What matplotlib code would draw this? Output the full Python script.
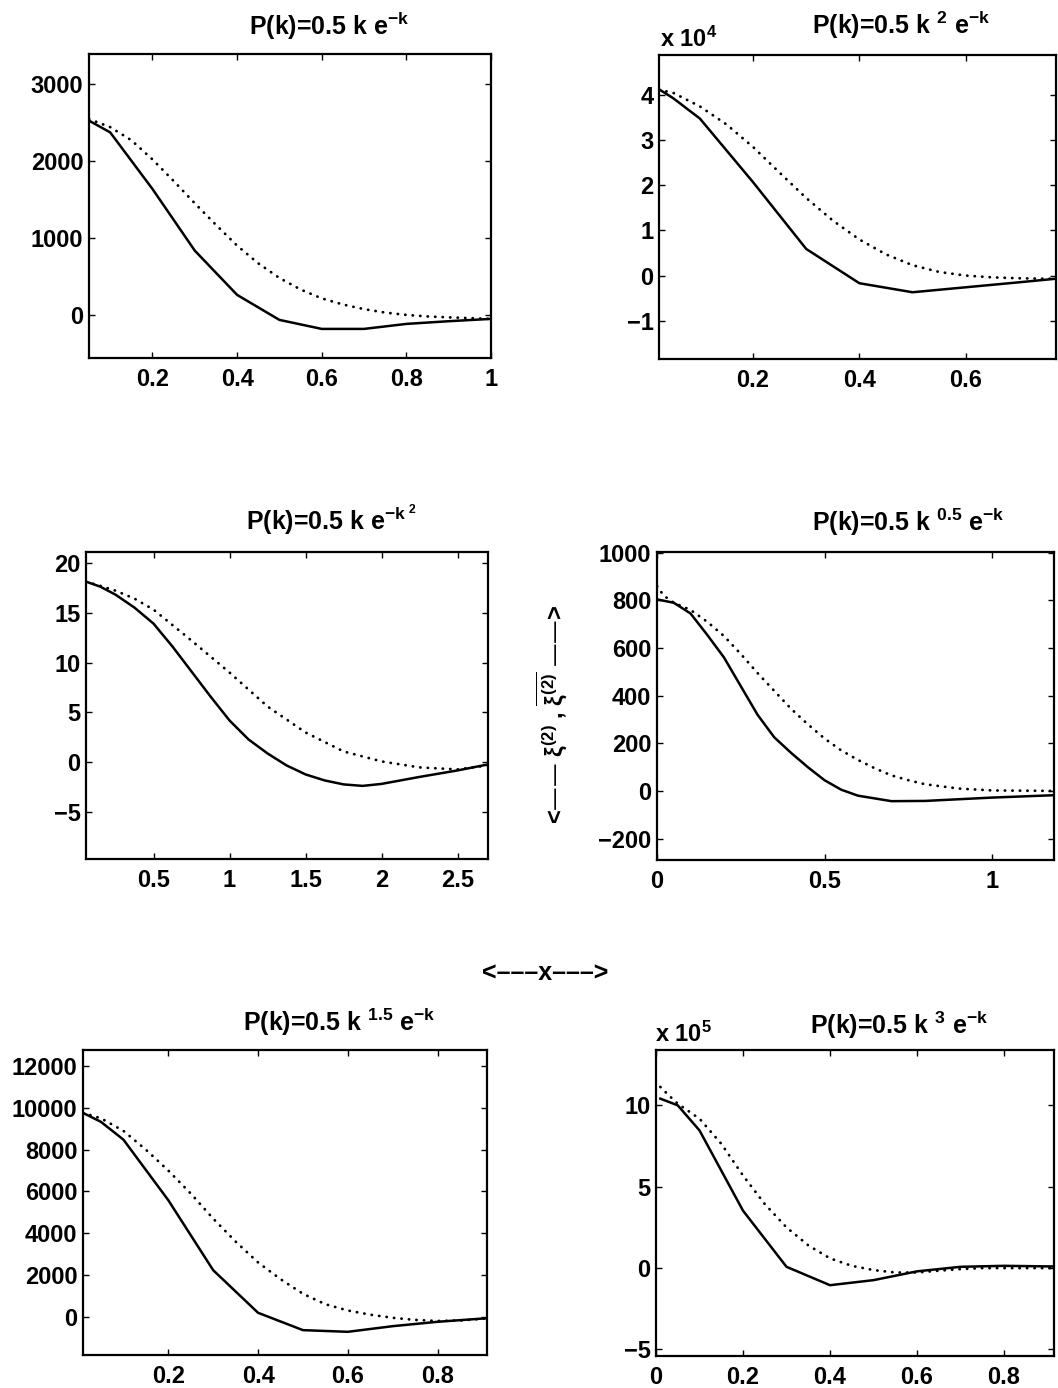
import matplotlib.pyplot as plt
from matplotlib.ticker import FuncFormatter

plt.rcParams['font.family'] = ['Liberation Sans', 'DejaVu Sans']
plt.rcParams['font.weight'] = 'bold'
plt.rcParams['mathtext.default'] = 'regular'

# Panel 1: P(k)=0.5 k e^-k
p1_x_solid = [0.05, 0.1, 0.2, 0.3, 0.4, 0.5, 0.6, 0.7, 0.8, 0.9, 1.0]
p1_y_solid = [2524, 2372, 1636, 835, 260, -65, -182, -182, -117, -82, -52]
p1_x_dot = [0.05, 0.1, 0.15, 0.2, 0.25, 0.3, 0.35, 0.4, 0.45, 0.5,
            0.55, 0.6, 0.65, 0.7, 0.75, 0.8, 0.85, 0.9, 0.95, 1.0]
p1_y_dot = [2545, 2440, 2270, 2020, 1740, 1450, 1170, 900, 670, 480,
            330, 215, 135, 75, 30, 0, -20, -32, -42, -52]

# Panel 2: P(k)=0.5 k^2 e^-k   (values x 10^4)
p2_x_solid = [0.023, 0.05, 0.1, 0.2, 0.3, 0.4, 0.5, 0.6, 0.7, 0.77]
p2_y_solid = [4.13, 3.93, 3.48, 2.07, 0.59, -0.17, -0.37, -0.26, -0.15, -0.07]
p2_x_dot = [0.023, 0.05, 0.1, 0.15, 0.2, 0.25, 0.3, 0.35, 0.4, 0.45,
            0.5, 0.55, 0.6, 0.65, 0.7, 0.75, 0.77]
p2_y_dot = [4.12, 4.05, 3.75, 3.35, 2.85, 2.28, 1.72, 1.22, 0.80, 0.47,
            0.23, 0.08, 0.0, -0.04, -0.06, -0.07, -0.07]

# Panel 3: P(k)=0.5 k e^-k^2
p3_x_solid = [0.056, 0.15, 0.25, 0.375, 0.5, 0.625, 0.75, 0.875, 1.0, 1.125, 1.25,
              1.375, 1.5, 1.625, 1.75, 1.875, 2.0, 2.25, 2.5, 2.7]
p3_y_solid = [18.1, 17.6, 16.8, 15.5, 13.9, 11.6, 9.1, 6.6, 4.2, 2.3, 0.9,
              -0.3, -1.2, -1.8, -2.2, -2.35, -2.15, -1.45, -0.8, -0.2]
p3_x_dot = [0.056, 0.125, 0.25, 0.375, 0.5, 0.75, 1.0, 1.25, 1.5, 1.75,
            2.0, 2.25, 2.5, 2.7]
p3_y_dot = [18.1, 17.8, 17.2, 16.4, 15.3, 12.2, 9.0, 5.6, 3.0, 1.1,
            0.1, -0.5, -0.7, -0.3]

# Panel 4: P(k)=0.5 k^0.5 e^-k
p4_x_solid = [0, 0.05, 0.1, 0.15, 0.2, 0.25, 0.3, 0.35, 0.4, 0.45,
              0.5, 0.55, 0.6, 0.7, 0.8, 0.9, 1.0, 1.185]
p4_y_solid = [804, 790, 745, 655, 560, 440, 320, 225, 160, 100,
              45, 5, -20, -43, -42, -35, -28, -18]
p4_x_dot = [0, 0.02, 0.05, 0.1, 0.15, 0.2, 0.25, 0.3, 0.35, 0.4, 0.45,
            0.5, 0.55, 0.6, 0.65, 0.7, 0.75, 0.8, 0.9, 1.0, 1.185]
p4_y_dot = [860, 820, 790, 760, 710, 650, 575, 495, 420, 345, 280,
            220, 170, 130, 95, 65, 45, 28, 10, 2, 0]

# Panel 5: P(k)=0.5 k^1.5 e^-k
p5_x_solid = [0.01, 0.05, 0.1, 0.2, 0.3, 0.4, 0.5, 0.6, 0.7, 0.8, 0.91]
p5_y_solid = [9760, 9330, 8480, 5580, 2230, 190, -640, -720, -450, -240, -70]
p5_x_dot = [0.01, 0.05, 0.1, 0.15, 0.2, 0.25, 0.3, 0.35, 0.4, 0.45,
            0.5, 0.55, 0.6, 0.65, 0.7, 0.75, 0.8, 0.85, 0.91]
p5_y_dot = [9760, 9500, 8900, 8000, 7000, 5900, 4700, 3600, 2600, 1800,
            1100, 600, 300, 100, -50, -150, -200, -180, -80]

# Panel 6: P(k)=0.5 k^3 e^-k   (values x 10^5)
p6_x_solid = [0.01, 0.05, 0.1, 0.2, 0.3, 0.4, 0.5, 0.6, 0.7, 0.8, 0.915]
p6_y_solid = [10.41, 10.0, 8.46, 3.53, 0.08, -1.05, -0.74, -0.2, 0.08, 0.14, 0.1]
p6_x_dot = [0.01, 0.03, 0.05, 0.1, 0.15, 0.2, 0.25, 0.3, 0.35, 0.4, 0.45,
            0.5, 0.55, 0.6, 0.65, 0.7, 0.75, 0.8, 0.85, 0.915]
p6_y_dot = [11.13, 10.6, 10.1, 9.18, 7.64, 5.69, 3.94, 2.5, 1.4, 0.6, 0.14,
            -0.12, -0.27, -0.27, -0.16, -0.06, 0, 0, 0, 0]

W, H = 1058, 1388
FS = 17
TFS = 18
fig = plt.figure(figsize=(W / 100, H / 100), dpi=100)
fmt = FuncFormatter(lambda v, p: f"{v:g}".replace('-', '\u2212'))


def px(x, y):
    return x / W, 1 - y / H


def add_panel(box, xs, ys, xd, yd, xlim, ylim, xticks, yticks,
              title, title_xy, mult=None, mult_xy=None):
    L, R, T, B = box
    ax = fig.add_axes([L / W, 1 - B / H, (R - L) / W, (B - T) / H])
    ax.plot(xs, ys, color='black', lw=1.8)
    ax.plot(xd, yd, color='black', lw=2.0, linestyle=(0, (0.1, 2.6)),
            dash_capstyle='round')
    ax.set_xlim(xlim)
    ax.set_ylim(ylim)
    ax.set_xticks(xticks)
    ax.set_yticks(yticks)
    ax.xaxis.set_major_formatter(fmt)
    ax.yaxis.set_major_formatter(fmt)
    ax.tick_params(direction='in', length=4, width=1, top=True, right=True,
                   labelsize=FS)
    ax.tick_params(axis='x', pad=7)
    ax.tick_params(axis='y', pad=4)
    for s in ax.spines.values():
        s.set_linewidth(1.6)
    fig.text(*px(*title_xy), title, ha='center', va='baseline',
             fontsize=TFS, fontweight='bold')
    if mult:
        fig.text(*px(*mult_xy), mult, ha='left', va='baseline',
                 fontsize=FS, fontweight='bold')
    return ax


add_panel((89, 491, 54, 358), p1_x_solid, p1_y_solid, p1_x_dot, p1_y_dot,
          (0.05, 1.0), (-560, 3390), [0.2, 0.4, 0.6, 0.8, 1.0],
          [0, 1000, 2000, 3000], r"P(k)=0.5 k e$^{-k}$", (329, 35))
add_panel((659, 1056, 55, 359), p2_x_solid, p2_y_solid, p2_x_dot, p2_y_dot,
          (0.023, 0.77), (-1.85, 4.89), [0.2, 0.4, 0.6],
          [-1, 0, 1, 2, 3, 4], r"P(k)=0.5 k $^{2}$ e$^{-k}$", (901, 34),
          r"x 10$^{4}$", (660, 47))
add_panel((86, 488, 552, 859), p3_x_solid, p3_y_solid, p3_x_dot, p3_y_dot,
          (0.056, 2.7), (-9.67, 21.07), [0.5, 1, 1.5, 2, 2.5],
          [-5, 0, 5, 10, 15, 20], r"P(k)=0.5 k e$^{-k^{\ 2}}$", (332, 530))
add_panel((657, 1054, 552, 860), p4_x_solid, p4_y_solid, p4_x_dot, p4_y_dot,
          (0, 1.185), (-290, 1003), [0, 0.5, 1],
          [-200, 0, 200, 400, 600, 800, 1000],
          r"P(k)=0.5 k $^{0.5}$ e$^{-k}$", (908, 531))
add_panel((83, 487, 1050, 1355), p5_x_solid, p5_y_solid, p5_x_dot, p5_y_dot,
          (0.01, 0.91), (-1830, 12770), [0.2, 0.4, 0.6, 0.8],
          [0, 2000, 4000, 6000, 8000, 10000, 12000],
          r"P(k)=0.5 k $^{1.5}$ e$^{-k}$", (339, 1031))
add_panel((656, 1054, 1050, 1356), p6_x_solid, p6_y_solid, p6_x_dot, p6_y_dot,
          (0, 0.915), (-5.4, 13.4), [0, 0.2, 0.4, 0.6, 0.8],
          [-5, 0, 5, 10], r"P(k)=0.5 k $^{3}$ e$^{-k}$", (899, 1034),
          r"x 10$^{5}$", (655, 1042))

# shared axis labels in the middle of the page
fig.text(*px(552, 714), "<\u2014\u2014 \u03be$^{(2)}$ , $\\overline{\u03be^{(2)}}$ \u2014\u2014>",
         rotation=90, ha='center', va='center', fontsize=FS, fontweight='bold')
fig.text(*px(545, 973), "<\u2013\u2013\u2013x\u2013\u2013\u2013>",
         ha='center', va='center', fontsize=FS + 1, fontweight='bold')

fig.savefig('out.png', dpi=100)
